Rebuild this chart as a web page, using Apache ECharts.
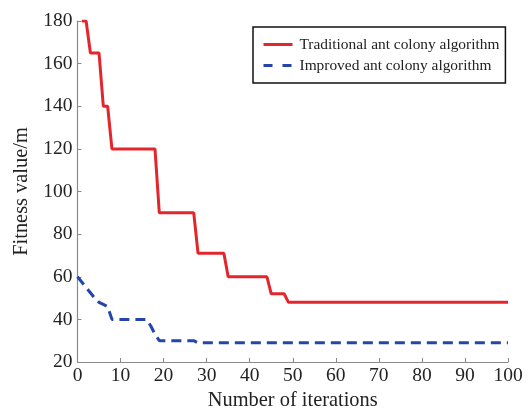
<!DOCTYPE html>
<html>
<head>
<meta charset="utf-8">
<script src="https://cdn.jsdelivr.net/npm/echarts@6/dist/echarts.min.js"></script>
<style>
  html, body { margin: 0; padding: 0; background: #fff; }
  #chart { width: 532px; height: 411px; }
</style>
</head>
<body>
<div id="chart"></div>
<script>
// Best fitness per iteration: [iteration, fitness value]
var traditionalAco = [
  [1, 180], [2, 180], [3, 165], [5, 165], [6, 140], [7, 140], [8, 120], [18, 120],
  [19, 90], [27, 90], [28, 71], [34, 71], [35, 60], [44, 60], [45, 52], [48, 52],
  [49, 48], [100, 48]
];
var improvedAco = [
  [0, 60], [4, 50], [5, 48], [6, 47], [7, 46], [8, 40], [16, 40], [17, 37],
  [18, 33], [19, 30], [27, 30], [28, 29], [100, 29]
];
var seriesNames = ['Traditional ant colony algorithm', 'Improved ant colony algorithm'];
var xTicks = [0, 10, 20, 30, 40, 50, 60, 70, 80, 90, 100];
var yTicks = [20, 40, 60, 80, 100, 120, 140, 160, 180];

var serif = 'Liberation Serif';
var red = '#e2262c';
var blue = '#2545a8';
var axisGray = '#8a8a8a';
var chart = echarts.init(document.getElementById('chart'), null, { renderer: 'canvas' });

chart.setOption({
  backgroundColor: '#ffffff',
  animation: false,
  grid: { left: 77.5, right: 24, top: 21, bottom: 49, outerBoundsMode: 'none', containLabel: false },
  legend: {
    orient: 'vertical',
    left: 253,
    top: 27,
    itemWidth: 29,
    itemHeight: 14,
    itemGap: 6,
    padding: [10, 6, 10, 9],
    borderColor: '#111',
    borderWidth: 1.5,
    itemStyle: { opacity: 0 },
    data: [
      { name: seriesNames[0], lineStyle: { color: red, width: 3, type: 'solid' } },
      { name: seriesNames[1], lineStyle: { color: blue, width: 3, type: [9, 10] } }
    ],
    textStyle: { fontFamily: serif, fontSize: 15.4, color: '#222', padding: [0, 0, 0, 2] }
  },
  xAxis: {
    type: 'value',
    min: xTicks[0],
    max: xTicks[xTicks.length - 1],
    interval: 10,
    name: 'Number of iterations',
    nameLocation: 'middle',
    nameGap: 29,
    nameTextStyle: { fontFamily: serif, fontSize: 20.4, color: '#222' },
    axisLine: { show: true, lineStyle: { color: axisGray, width: 1.2 } },
    axisTick: { show: true, inside: true, length: 4, lineStyle: { color: axisGray } },
    axisLabel: { fontFamily: serif, fontSize: 19.5, color: '#222', margin: 4 },
    splitLine: { show: false }
  },
  yAxis: {
    type: 'value',
    min: yTicks[0],
    max: yTicks[yTicks.length - 1],
    interval: 20,
    name: 'Fitness value/m',
    nameLocation: 'middle',
    nameGap: 46,
    nameTextStyle: { fontFamily: serif, fontSize: 20.4, color: '#222' },
    axisLine: { show: true, lineStyle: { color: axisGray, width: 1.2 } },
    axisTick: { show: true, inside: true, length: 4, lineStyle: { color: axisGray } },
    axisLabel: { fontFamily: serif, fontSize: 19.5, color: '#222', margin: 5 },
    splitLine: { show: false }
  },
  series: [
    {
      name: seriesNames[0],
      type: 'line',
      data: traditionalAco,
      showSymbol: false,
      symbol: 'none',
      color: red,
      lineStyle: { color: red, width: 3 }
    },
    {
      name: seriesNames[1],
      type: 'line',
      data: improvedAco,
      showSymbol: false,
      symbol: 'none',
      color: blue,
      lineStyle: { color: blue, width: 3, type: [10, 6] }
    }
  ]
});
</script>
</body>
</html>
